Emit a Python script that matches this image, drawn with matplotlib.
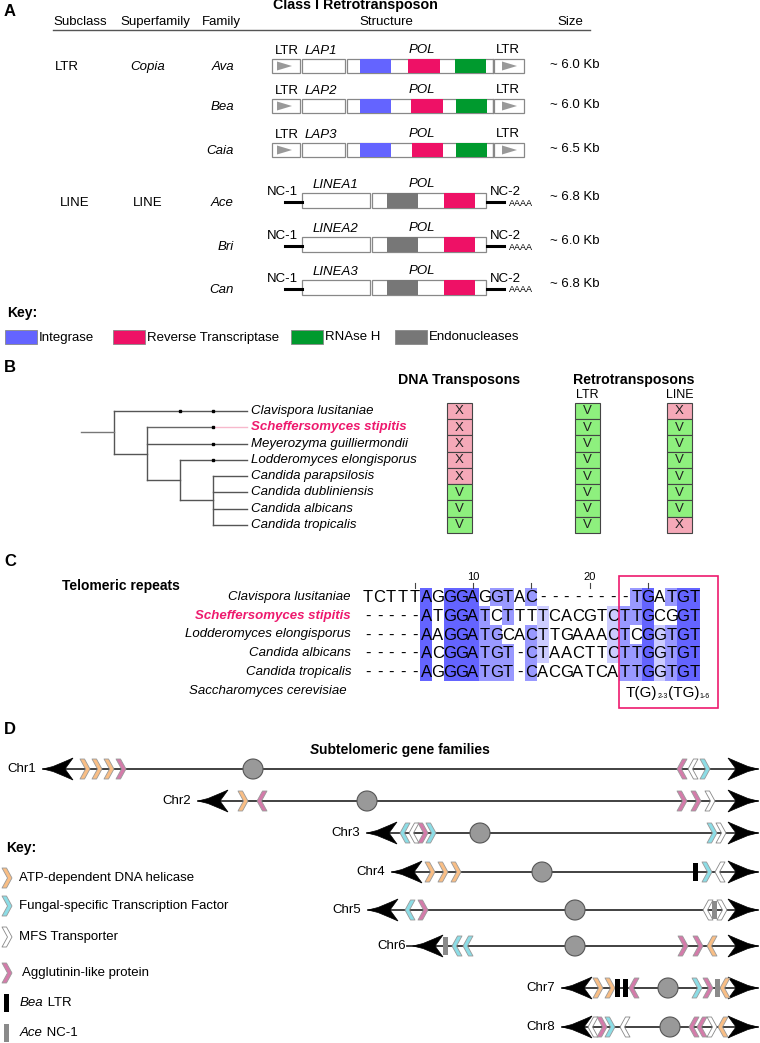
import matplotlib
matplotlib.use("Agg")
import matplotlib.pyplot as plt
from matplotlib.patches import Rectangle, Polygon, Circle

plt.rcParams['font.family'] = ['Liberation Sans', 'DejaVu Sans']

# ---------------- data ----------------
# panel A
a_headers = ["Subclass", "Superfamily", "Family", "Structure", "Size"]
ltr_families = ["Ava", "Bea", "Caia"]
ltr_gag = ["LAP1", "LAP2", "LAP3"]
line_families = ["Ace", "Bri", "Can"]
line_orf1 = ["LINEA1", "LINEA2", "LINEA3"]
ltr_sizes = ["~ 6.0 Kb", "~ 6.0 Kb", "~ 6.5 Kb"]
line_sizes = ["~ 6.8 Kb", "~ 6.0 Kb", "~ 6.8 Kb"]
# domains along the element (drawing units)
ltr_domains = [
    [("Integrase", 360, 391), ("Reverse Transcriptase", 408, 440), ("RNAse H", 455, 486)],
    [("Integrase", 360, 391), ("Reverse Transcriptase", 411, 443), ("RNAse H", 456, 487)],
    [("Integrase", 360, 391), ("Reverse Transcriptase", 412, 443), ("RNAse H", 456, 487)],
]
line_domains = [
    [("Endonucleases", 387, 418), ("Reverse Transcriptase", 444, 475)],
    [("Endonucleases", 387, 418), ("Reverse Transcriptase", 444, 475)],
    [("Endonucleases", 387, 418), ("Reverse Transcriptase", 444, 475)],
]
domain_names = ["Integrase", "Reverse Transcriptase", "RNAse H", "Endonucleases"]
domain_colors = ["#6464FF", "#EE1166", "#009A2E", "#777777"]

# panel B
species_b = ["Clavispora lusitaniae", "Scheffersomyces stipitis", "Meyerozyma guilliermondii",
             "Lodderomyces elongisporus", "Candida parapsilosis", "Candida dubliniensis",
             "Candida albicans", "Candida tropicalis"]
tree = ("Clavispora lusitaniae",
        ("Scheffersomyces stipitis", "Meyerozyma guilliermondii",
         ("Lodderomyces elongisporus",
          ("Candida parapsilosis", "Candida dubliniensis", "Candida albicans", "Candida tropicalis"))))
tree_dots = [[2, 3], [3], [3], [3], [], [], [], []]
dna_tp = ["X", "X", "X", "X", "X", "V", "V", "V"]
ltr_tp = ["V", "V", "V", "V", "V", "V", "V", "V"]
line_tp = ["X", "V", "V", "V", "V", "V", "V", "X"]

# panel C
species_c = ["Clavispora lusitaniae", "Scheffersomyces stipitis", "Lodderomyces elongisporus",
             "Candida albicans", "Candida tropicalis"]
seqs_c = ["TCTTTAGGGAGGTAC--------TGATGT",
          "-----ATGGATCTTTTCACGTCTTGCGGT",
          "-----AAGGATGCACTTGAAACTCGGTGT",
          "-----ACGGATGT-CTAACTTCTTGGTGT",
          "-----AGGGATGT-CACGATCATTGGTGT"]

# panel D
chrom_names = ["Chr1", "Chr2", "Chr3", "Chr4", "Chr5", "Chr6", "Chr7", "Chr8"]
chrom_start = [43, 198, 367, 392, 368, 413, 562, 562]
chrom_end = [758, 758, 758, 758, 758, 758, 758, 758]
centromeres = [253, 367, 480, 542, 575, 575, 668, 670]
chrom_features = [
    [("atp", 85, ">"), ("atp", 97, ">"), ("atp", 109, ">"), ("agg", 121, ">"),
     ("agg", 682, "<"), ("mfs", 693, "<"), ("tf", 705, ">")],
    [("atp", 243, ">"), ("agg", 262, "<"),
     ("agg", 682, ">"), ("agg", 696, ">"), ("mfs", 710, ">")],
    [("tf", 405, "<"), ("mfs", 414, "<"), ("agg", 423, ">"), ("tf", 431, ">"),
     ("tf", 712, ">"), ("mfs", 721, ">")],
    [("atp", 430, ">"), ("atp", 443, ">"), ("atp", 456, ">"),
     ("bea", 695, "|"), ("tf", 707, ">"), ("mfs", 720, "<")],
    [("tf", 410, "<"), ("agg", 423, ">"),
     ("mfs", 708, "<"), ("ace", 714, "|"), ("mfs", 722, ">")],
    [("ace", 445, "|"), ("tf", 457, "<"), ("tf", 468, "<"),
     ("agg", 683, ">"), ("agg", 698, ">"), ("atp", 712, "<")],
    [("atp", 598, ">"), ("atp", 610, ">"), ("bea", 617, "|"), ("bea", 625, "|"), ("agg", 634, "<"),
     ("tf", 697, ">"), ("agg", 708, ">"), ("ace", 717, "|"), ("atp", 725, "<")],
    [("mfs", 593, "<"), ("agg", 602, ">"), ("tf", 610, ">"), ("mfs", 625, "<"),
     ("agg", 694, "<"), ("agg", 702, "<"), ("mfs", 712, ">"), ("atp", 723, "<")],
]
gene_kinds = ["atp", "tf", "mfs", "agg", "bea", "ace"]
gene_labels = ["ATP-dependent DNA helicase", "Fungal-specific Transcription Factor",
               "MFS Transporter", "Agglutinin-like protein", "Bea LTR", "Ace NC-1"]
gene_colors = {"atp": "#F9BE85", "tf": "#8CDDE6", "mfs": "#FFFFFF", "agg": "#D47BAA",
               "bea": "#000000", "ace": "#8A8A8A"}

PINK = "#EE1A6E"

# ---------------- figure ----------------
fig = plt.figure(figsize=(7.6, 10.43), dpi=100)
ax = fig.add_axes([0, 0, 1, 1])
ax.set_xlim(0, 760)
ax.set_ylim(1043, 0)
ax.axis("off")


def txt(x, y, s, size=9.5, **kw):
    kw.setdefault("va", "center")
    return ax.text(x, y, s, fontsize=size, **kw)


def rich(x, y, parts, size=9.5):
    # parts: list of (text, style, weight[, size])
    p0 = parts[0]
    prev = ax.text(x, y, p0[0], fontsize=p0[3] if len(p0) > 3 else size, style=p0[1],
                   weight=p0[2], va="center", ha="left")
    for p in parts[1:]:
        prev = ax.annotate(p[0], xy=(1, 0), xycoords=prev, va="bottom", ha="left",
                           fontsize=p[3] if len(p) > 3 else size, style=p[1], weight=p[2])


def box(x, y, w, h, fc="white", ec="#888888", lw=0.9, z=2):
    ax.add_patch(Rectangle((x, y), w, h, fc=fc, ec=ec, lw=lw, zorder=z))


# panel labels
for lab, y in zip("ABCD", [12, 367, 562, 730]):
    txt(4, y, lab, size=12, weight="bold")

# ---------------- panel A ----------------
txt(355, 5, "Class I Retrotransposon", size=10.3, weight="bold", ha="center")
for h, x in zip(a_headers, [53, 120, 202, 359, 557]):
    txt(x, 22, h, ha="left")
ax.plot([53, 590], [29.5, 29.5], color="#555555", lw=1)

dcol = dict(zip(domain_names, domain_colors))
ltr_tops = [59, 99, 143]
bh = 14
for i, top in enumerate(ltr_tops):
    cy = top + bh / 2
    txt(234, cy + 1.5, ltr_families[i], style="italic", ha="right")
    txt(550, cy - 1.5, ltr_sizes[i], ha="left")
    box(272, top, 28, bh)
    box(302, top, 43, bh)
    box(347, top, 146, bh)
    box(494, top, 30, bh)
    for name, s, e in ltr_domains[i]:
        box(s, top, e - s, bh, fc=dcol[name], ec="none", lw=0, z=3)
    ax.plot([493, 493], [top, top + bh], color="#888888", lw=0.9, zorder=4)
    for tx in (277, 502):
        ax.add_patch(Polygon([(tx, top + 2.5), (tx, top + bh - 2.5), (tx + 15, cy)],
                             closed=True, fc="#999999", ec="none", zorder=4))
    txt(287, top - 8, "LTR", ha="center")
    txt(321, top - 8, ltr_gag[i], style="italic", ha="center")
    txt(422, top - 9, "POL", style="italic", ha="center")
    txt(508, top - 9, "LTR", ha="center")
txt(67, 67, "LTR", ha="center")
txt(148, 67, "Copia", style="italic", ha="center")

line_tops = [193, 237, 280]
bh2 = 15
for i, top in enumerate(line_tops):
    cy = top + bh2 / 2
    txt(234, cy + 2.5, line_families[i], style="italic", ha="right")
    txt(550, cy - 3.5, line_sizes[i], ha="left")
    ax.plot([285, 302], [top + 9, top + 9], color="black", lw=2.2, zorder=3)
    ax.plot([487, 504], [top + 9, top + 9], color="black", lw=2.2, zorder=3)
    txt(267, top - 1, "NC-1", ha="left")
    txt(490, top - 1, "NC-2", ha="left")
    txt(509, top + 10, "AAAA", size=6.5, ha="left")
    box(302, top, 68, bh2)
    box(372, top, 114, bh2)
    for name, s, e in line_domains[i]:
        box(s, top, e - s, bh2, fc=dcol[name], ec="none", lw=0, z=3)
    txt(335, top - 8, line_orf1[i], style="italic", ha="center")
    txt(422, top - 9, "POL", style="italic", ha="center")
txt(75, 203, "LINE", ha="center")
txt(148, 203, "LINE", ha="center")

txt(7, 313, "Key:", size=10, weight="bold")
for name, bx in zip(domain_names, [5, 113, 291, 395]):
    box(bx, 330, 32, 14, fc=dcol[name], ec="#888888", lw=0.6)
    txt(bx + 34, 337.5, name, ha="left")

# ---------------- panel B ----------------
row0, rstep = 411, 16.25
tip_x = 247


def node_x(depth):
    return 114 + 33 * depth


def draw_clade(node, depth):
    x = node_x(depth)
    ys = []
    for ch in node:
        if isinstance(ch, str):
            i = species_b.index(ch)
            y = row0 + rstep * i
            if i == 1:
                ax.plot([x, node_x(3)], [y, y], color="#666666", lw=1)
                ax.plot([node_x(3), tip_x], [y, y], color="#F7B9CC", lw=1)
            else:
                ax.plot([x, tip_x], [y, y], color="#555555", lw=1)
            for d in tree_dots[i]:
                ax.plot(node_x(d), y, "s", ms=2, color="black")
        else:
            y = draw_clade(ch, depth + 1)
            ax.plot([x, node_x(depth + 1)], [y, y], color="#555555", lw=1)
        ys.append(y)
    ax.plot([x, x], [min(ys), max(ys)], color="#555555", lw=1)
    return (min(ys) + max(ys)) / 2


ry = draw_clade(tree, 0)
ax.plot([81, node_x(0)], [ry, ry], color="#777777", lw=1)

for i, sp in enumerate(species_b):
    y = row0 + rstep * i
    if i == 1:
        txt(251, y, sp, style="italic", weight="bold", color=PINK, ha="left")
    else:
        txt(251, y, sp, style="italic", ha="left")
    for col, xl in zip([dna_tp, ltr_tp, line_tp], [447, 575, 667]):
        fc = "#F5A9B8" if col[i] == "X" else "#8EF07E"
        box(xl, y - rstep / 2, 24.5, rstep, fc=fc, ec="#444444", lw=0.8)
        txt(xl + 12.25, y + 0.5, col[i], size=9.5, ha="center", color="#222222")

txt(459, 380, "DNA Transposons", size=10.2, weight="bold", ha="center")
txt(634, 380, "Retrotransposons", size=10.2, weight="bold", ha="center")
txt(587, 394.5, "LTR", size=9, ha="center")
txt(680, 394.5, "LINE", size=9, ha="center")

# ---------------- panel C ----------------
txt(62, 586, "Telomeric repeats", size=10, weight="bold", ha="left")
cx0, cw = 362, 11.67
c_rows = [597, 615.75, 634.5, 653.25, 672]
ch_h = 18.75
nseq = len(seqs_c)
for c in range(len(seqs_c[0])):
    column = [s[c] for s in seqs_c]
    counts = {b: column.count(b) for b in set(column) if b != "-"}
    if not counts:
        continue
    cons = max(counts, key=counts.get)
    pid = 100.0 * counts[cons] / nseq
    if pid > 80:
        shade = "#6464FF"
    elif pid > 60:
        shade = "#9999FF"
    elif pid > 40:
        shade = "#CCCCFF"
    else:
        continue
    for r, b in enumerate(column):
        if b == cons:
            ax.add_patch(Rectangle((cx0 + c * cw, c_rows[r] - ch_h / 2), cw, ch_h,
                                   fc=shade, ec="none", zorder=1))
for r, s in enumerate(seqs_c):
    for c, b in enumerate(s):
        txt(cx0 + c * cw + cw / 2, c_rows[r] + 0.5, b, size=12, ha="center", zorder=3)
    if r == 1:
        txt(351, c_rows[r], species_c[r], style="italic", weight="bold", color=PINK, ha="right")
    else:
        txt(351, c_rows[r], species_c[r], style="italic", ha="right")
txt(347, 691, "Saccharomyces cerevisiae", style="italic", ha="right")
for c in range(5, len(seqs_c[0]) + 1, 5):
    xc = cx0 + (c - 1) * cw + cw / 2
    ax.plot([xc, xc], [583, 588], color="#444444", lw=0.8)
    if c % 10 == 0:
        txt(xc, 577, str(c), size=8, ha="center")
ax.add_patch(Rectangle((619, 576), 99, 132, fc="none", ec=PINK, lw=1.2, zorder=4))
rich(626, 693, [("T(G)", "normal", "normal", 11), ("2-3", "normal", "normal", 5),
                ("(TG)", "normal", "normal", 11), ("1-6", "normal", "normal", 5)])

# ---------------- panel D ----------------
rich(310, 750, [("S", "italic", "bold"), ("ubtelomeric gene families", "normal", "bold")], size=10)


def chevron(x, y, d, fc, w=10, h=20, t=4.5):
    pts = [(-w / 2, -h / 2), (-w / 2 + t, -h / 2), (w / 2, 0),
           (-w / 2 + t, h / 2), (-w / 2, h / 2), (w / 2 - t, 0)]
    if d == "<":
        pts = [(-px, py) for px, py in pts]
    ec = "#888888" if fc == "#FFFFFF" else "#999999"
    ax.add_patch(Polygon([(x + px, y + py) for px, py in pts], closed=True, fc=fc,
                         ec=ec, lw=0.6, joinstyle="round", zorder=5))


def bar(x, y, fc):
    ax.add_patch(Rectangle((x - 2.5, y - 9), 5, 18, fc=fc, ec="none", zorder=6))


def end_arrow(xt, y, sign):
    shape = [(0, 0), (10, -2.5), (22, -7.5), (30, -11), (22, 0), (30, 11), (22, 7.5), (10, 2.5)]
    ax.add_patch(Polygon([(xt + sign * px, y + py) for px, py in shape], closed=True,
                         fc="black", ec="black", lw=0.5, zorder=4))


chrom_y = [769, 801, 833, 872, 910, 946, 988, 1027]
for i, name in enumerate(chrom_names):
    y = chrom_y[i]
    x0, x1 = chrom_start[i], chrom_end[i]
    if name == "Chr6":
        ax.plot([x0 - 6, x0], [y, y], color="#333333", lw=1.3, zorder=3)
    ax.plot([x0, x1], [y, y], color="#333333", lw=1.3, zorder=3)
    end_arrow(x0, y, 1)
    end_arrow(x1, y, -1)
    ax.add_patch(Circle((centromeres[i], y), 10, fc="#999999", ec="#555555", lw=0.8, zorder=5))
    txt(x0 - 7, y, name, size=9.5, ha="right")
    for kind, gx, d in chrom_features[i]:
        if d == "|":
            bar(gx, y, gene_colors[kind])
        else:
            chevron(gx, y, d, gene_colors[kind])

txt(6, 848, "Key:", size=10, weight="bold")
key_y = [878, 906, 937, 973, 1003, 1033]
for kind, lab, y in zip(gene_kinds, gene_labels, key_y):
    if kind in ("bea", "ace"):
        bar(6, y, gene_colors[kind])
        first, rest = lab.split(" ", 1)
        rich(20, y, [(first, "italic", "normal"), (" " + rest, "normal", "normal")])
    else:
        chevron(7, y, ">", gene_colors[kind])
        txt(19 if kind != "agg" else 22, y, lab, ha="left")

fig.savefig("out.png", dpi=100)
